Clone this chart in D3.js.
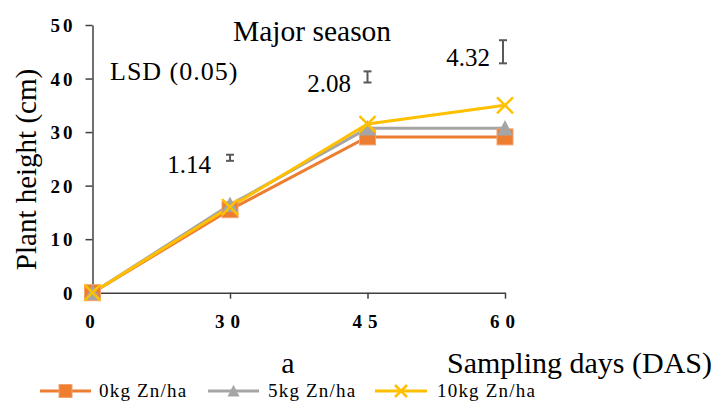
<!DOCTYPE html>
<html>
<head>
<meta charset="utf-8">
<script src="https://cdn.jsdelivr.net/npm/d3@7"></script>
<style>
  html, body { margin: 0; padding: 0; background: #fff; }
  svg { display: block; }
</style>
</head>
<body>
<script>
// Plant height over sampling days for three zinc rates (major season)
const days = ["0", "30", "45", "60"];
const zn0 = [0, 15.5, 29.1, 29.1];
const zn5 = [0, 16.4, 30.7, 30.7];
const zn10 = [0, 16.0, 31.5, 35.0];
const seriesNames = ["0kg Zn/ha", "5kg Zn/ha", "10kg Zn/ha"];
const yTicks = [0, 10, 20, 30, 40, 50];
// LSD (0.05) bars: sampling day, centre height, LSD value
const lsdDays = ["30", "45", "60"];
const lsdCenter = [25.2, 40.3, 45.0];
const lsdValue = [1.14, 2.08, 4.32];

const W = 720, H = 403;
const FONT = "Liberation Serif";
const svg = d3.select("body").append("svg").attr("width", W).attr("height", H);

const x = d3.scalePoint().domain(days).range([92.5, 505]);
const y = d3.scaleLinear().domain([0, 50]).range([292.7, 25]);

const axisColor = "#404040";

// axes
const xAxis = svg.append("g").attr("transform", `translate(0,${y(0)})`)
  .call(d3.axisBottom(x).tickSize(6).tickSizeOuter(0).tickPadding(16));
const yAxis = svg.append("g").attr("transform", `translate(${x("0")},0)`)
  .call(d3.axisLeft(y).tickValues(yTicks).tickSize(7).tickSizeOuter(0).tickPadding(10));
[xAxis, yAxis].forEach(g => {
  g.attr("font-family", FONT).attr("font-size", 19);
  g.select(".domain").attr("stroke", axisColor).attr("stroke-width", 1.5);
  g.selectAll(".tick line").attr("stroke", axisColor).attr("stroke-width", 1.5);
  g.selectAll(".tick text").attr("fill", "#000").attr("font-weight", "bold")
    .style("font-family", FONT);
});
xAxis.selectAll(".tick text").style("letter-spacing", "6px");
yAxis.selectAll(".tick text").style("letter-spacing", "3px").attr("dy", "0.35em");

const colors = ["#ED7D31", "#A5A5A5", "#FFC000"];
const data = [zn0, zn5, zn10];
const line = d3.line().x((d, i) => x(days[i])).y(d => y(d));

function marker(g, k, cx, cy, s) {
  if (k === 0) {
    g.append("rect").attr("x", cx - s / 2).attr("y", cy - s / 2).attr("width", s).attr("height", s)
      .attr("fill", colors[0]).attr("stroke", "#F4A36F").attr("stroke-width", 1);
  } else if (k === 1) {
    g.append("path")
      .attr("d", `M${cx},${cy - s * 0.52}L${cx + s / 2},${cy + s * 0.45}L${cx - s / 2},${cy + s * 0.45}Z`)
      .attr("fill", colors[1]);
  } else {
    const r = s / 2;
    g.append("path")
      .attr("d", `M${cx - r},${cy - r}L${cx + r},${cy + r}M${cx - r},${cy + r}L${cx + r},${cy - r}`)
      .attr("stroke", colors[2]).attr("stroke-width", 2.5).attr("fill", "none");
  }
}

data.forEach((vals, k) => {
  svg.append("path").datum(vals).attr("d", line)
    .attr("fill", "none").attr("stroke", colors[k]).attr("stroke-width", 3);
});
const markerSize = [16, 16, 16];
data.forEach((vals, k) => {
  const g = svg.append("g");
  vals.forEach((v, i) => marker(g, k, x(days[i]), y(v), markerSize[k]));
});

// LSD bars
const lsd = svg.append("g");
lsdDays.forEach((d, i) => {
  const cx = x(d) - (i === 2 ? 2 : 0);
  const y1 = y(lsdCenter[i] + lsdValue[i] / 2), y2 = y(lsdCenter[i] - lsdValue[i] / 2);
  lsd.append("line").attr("x1", cx).attr("x2", cx).attr("y1", y1).attr("y2", y2)
    .attr("stroke", "#595959").attr("stroke-width", 2);
  [y1, y2].forEach(yy => lsd.append("line").attr("x1", cx - 4).attr("x2", cx + 4)
    .attr("y1", yy).attr("y2", yy).attr("stroke", "#595959").attr("stroke-width", 2));
});

function label(px, py, size, str, anchor) {
  return svg.append("text").attr("x", px).attr("y", py).attr("font-size", size)
    .attr("text-anchor", anchor || "start").attr("fill", "#000")
    .style("font-family", FONT).text(str);
}

const lsdLabelPos = [[211, 173], [351, 92], [490, 66]];
lsdValue.forEach((v, i) => {
  label(lsdLabelPos[i][0], lsdLabelPos[i][1], 25, v.toFixed(2), "end");
});

label(110, 80, 26, "LSD (0.05)").style("letter-spacing", "1px");
label(233, 41, 29.5, "Major season");

// axis titles
label(0, 0, 29, "Plant height (cm)", "middle").attr("transform", "translate(35.5,169.5) rotate(-90)");
label(288, 372.5, 30, "a", "middle");
label(712, 373, 30, "Sampling days (DAS)", "end");

// legend
const legX = [[40, 91], [208, 259], [375, 427]];
const legText = [99, 268, 437];
const legY = 391;
const legMarker = [13, 12, 12];
seriesNames.forEach((name, k) => {
  const g = svg.append("g");
  const [x0, x1] = legX[k];
  g.append("line").attr("x1", x0).attr("x2", x1).attr("y1", legY).attr("y2", legY)
    .attr("stroke", colors[k]).attr("stroke-width", 3);
  marker(g, k, (x0 + x1) / 2, legY, legMarker[k]);
  label(legText[k], legY + 6, 19, name).style("letter-spacing", "1.2px");
});
</script>
</body>
</html>
